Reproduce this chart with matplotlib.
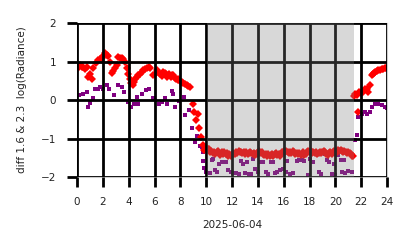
import numpy as np
import matplotlib
matplotlib.use("Agg")
import matplotlib.pyplot as plt

# ---- data (hours of 2025-06-04, diff of log radiance) ----
red_day_t = [0.1,0.2,0.35,0.49,0.62,0.75,0.88,1.0,1.14,1.27,1.45,1.65,1.78,1.9,2.05,2.2,2.32,2.43,2.55,2.68,
             2.8,2.94,3.07,3.2,3.32,3.45,3.59,3.74,3.84,3.97,4.1,4.2,4.3,4.4,4.52,4.62,4.75,4.88,5.0,5.14,
             5.3,5.45,5.57,5.68,5.86,6.0,6.17,6.28,6.4,6.56,6.69,6.8,6.9,7.0,7.1,7.25,7.35,7.46,7.56,7.66,
             7.78,7.85,8.0,8.1,8.22,8.36,8.5,8.62,8.75,8.95,9.08,9.2,9.39,9.47,9.6,9.73,9.85]
red_day_v = [0.82,0.9,0.85,0.87,0.8,0.87,0.6,0.68,0.56,0.82,0.95,1.04,1.06,1.08,1.15,1.21,1.18,1.15,1.0,0.7,
             0.75,0.82,0.91,1.12,1.08,1.1,1.06,1.0,0.82,0.69,0.56,0.45,0.4,0.48,0.55,0.6,0.65,0.69,0.73,0.78,
             0.8,0.82,0.86,0.84,0.65,0.69,0.78,0.72,0.69,0.63,0.74,0.7,0.67,0.6,0.69,0.6,0.66,0.65,0.58,0.56,
             0.54,0.52,0.5,0.48,0.45,0.43,0.4,0.37,0.33,-0.1,-0.3,-0.52,-0.37,-0.73,-0.95,-1.17,-1.3]

red_night_v = [-1.22,-1.30,-1.28,-1.35,-1.32,-1.38,-1.34,-1.40,-1.36,-1.33,
               -1.37,-1.42,-1.36,-1.40,-1.35,-1.41,-1.38,-1.44,-1.40,-1.46,
               -1.42,-1.38,-1.41,-1.35,-1.37,-1.33,-1.36,-1.34,-1.38,-1.35,
               -1.39,-1.36,-1.40,-1.37,-1.34,-1.38,-1.41,-1.37,-1.43,-1.39,
               -1.36,-1.33,-1.38,-1.35,-1.40,-1.42,-1.39,-1.44,-1.41,-1.45,
               -1.42,-1.40,-1.44,-1.41,-1.38,-1.43,-1.40,-1.45,-1.39,-1.36,
               -1.33,-1.36,-1.32,-1.35,-1.38,-1.34,-1.37,-1.33,-1.36,-1.39,
               -1.37,-1.41,-1.38,-1.43,-1.40,-1.36,-1.42,-1.39,-1.35,-1.32,
               -1.36,-1.33,-1.37,-1.34,-1.38,-1.35,-1.40,-1.37,-1.34,-1.38,
               -1.35,-1.31,-1.36,-1.39,-1.42,-1.38,-1.35,-1.40,-1.36,-1.33,
               -1.37,-1.34,-1.30,-1.33,-1.29,-1.32,-1.36,-1.31,-1.35,-1.38,
               -1.34,-1.37,-1.41,-1.44,-1.46]
red_night_t = list(np.round(10.0 + 0.1 * np.arange(len(red_night_v)), 2))

red_eve_t = [21.45,21.55,21.65,21.78,21.85,22.0,22.17,22.3,22.43,22.56,22.68,22.8,22.9,23.0,23.1,23.2,
             23.32,23.45,23.57,23.7,23.82,23.95]
red_eve_v = [0.1,0.15,0.12,-0.3,0.2,0.18,0.22,0.28,0.3,0.22,0.39,0.65,0.68,0.7,0.73,0.75,
             0.77,0.78,0.8,0.8,0.82,0.84]

pur_t = [0.15,0.5,0.75,0.88,1.0,1.2,1.4,1.65,1.78,2.0,2.3,2.48,2.9,3.15,3.46,3.67,3.92,4.18,4.44,4.62,
         4.75,5.0,5.34,5.6,5.86,6.37,6.56,6.81,6.94,7.33,7.46,7.59,7.92,8.28,8.36,8.7,8.88,9.13,9.31,9.52,
         9.65,9.73,9.78,9.83,
         9.98,10.3,10.43,10.55,10.68,10.8,11.02,11.2,11.37,11.5,11.72,11.9,12.1,12.3,12.5,12.67,12.82,13.0,
         13.15,13.3,13.5,13.65,13.8,14.0,14.2,14.4,14.6,14.8,15.0,15.2,15.35,15.5,15.7,15.97,16.15,16.27,
         16.5,16.75,17.0,17.2,17.4,17.6,17.85,18.05,18.3,18.5,18.7,18.85,19.2,19.35,19.5,19.75,19.9,20.0,
         20.2,20.4,20.5,20.65,20.75,20.95,21.3,21.5,21.65,
         21.78,22.04,22.3,22.45,22.68,22.8,23.07,23.3,23.6,23.84,24.0]
pur_v = [0.13,0.15,0.2,-0.17,-0.08,0.06,0.3,0.28,0.35,0.29,0.39,0.29,0.13,0.39,0.35,0.22,-0.04,-0.17,-0.11,0.09,
         -0.09,0.15,0.26,0.3,0.06,-0.11,-0.04,0.06,-0.09,0.23,0.17,-0.17,-0.03,0.09,-0.39,-0.26,-0.72,-1.08,-0.93,-1.19,
         -1.21,-1.34,-1.58,-1.77,
         -1.86,-1.9,-1.56,-1.52,-1.82,-1.88,-1.65,-1.6,-1.6,-1.6,-1.82,-1.88,-1.89,-1.9,-1.93,-1.58,-1.65,-1.9,
         -1.6,-1.93,-1.93,-1.54,-1.8,-1.87,-1.6,-1.6,-1.87,-1.93,-1.6,-1.6,-1.9,-1.87,-1.82,-1.8,-1.87,-1.57,
         -1.93,-1.9,-1.57,-1.55,-1.55,-1.57,-1.95,-1.52,-1.6,-1.4,-1.87,-1.93,-1.4,-1.56,-1.6,-1.93,-1.65,-1.95,
         -1.42,-1.55,-1.87,-1.56,-1.9,-1.85,-1.87,-1.04,-0.9,
         -0.43,-0.35,-0.32,-0.35,-0.3,-0.17,-0.09,-0.1,-0.13,-0.19,-0.2]

night_start, night_end = 10.05, 21.45
x_ticks = list(range(0, 25, 2))
y_ticks = [-2, -1, 0, 1, 2]
x_label = "2025-06-04"
y_label = "diff 1.6 & 2.3  log(Radiance)"

# ---- figure ----
fig = plt.figure(figsize=(4.14, 2.48), dpi=100)
ax = fig.add_axes([0.186, 0.286, 0.749, 0.621])

red_t = red_day_t + red_night_t + red_eve_t
red_v = red_day_v + red_night_v + red_eve_v
ax.plot(pur_t, pur_v, linestyle="none", marker="s", markersize=3.2,
        color="#800080", markeredgewidth=0, zorder=2)
ax.plot(red_t, red_v, linestyle="none", marker="D", markersize=3.6,
        color="#ff0000", markeredgewidth=0, zorder=2)

ax.axvspan(night_start, night_end, color="gray", alpha=0.3, lw=0, zorder=3)

ax.set_xlim(0, 24)
ax.set_ylim(-2, 2)
ax.set_xticks(x_ticks)
ax.set_yticks(y_ticks)
ax.grid(True, color="black", linewidth=2.0, zorder=4)
ax.set_axisbelow(False)
for s in ax.spines.values():
    s.set_color("#cccccc")
    s.set_linewidth(0.8)
ax.tick_params(axis="both", length=7, width=2.0, color="black",
               labelsize=7.5, labelcolor="#222222", pad=7)
ax.tick_params(axis="y", pad=8)
ax.set_xlabel(x_label, fontsize=7.5, color="#222222", labelpad=10)
ax.set_ylabel(y_label, fontsize=7.5, color="#222222", labelpad=10)

fig.savefig("out.png", dpi=100)
